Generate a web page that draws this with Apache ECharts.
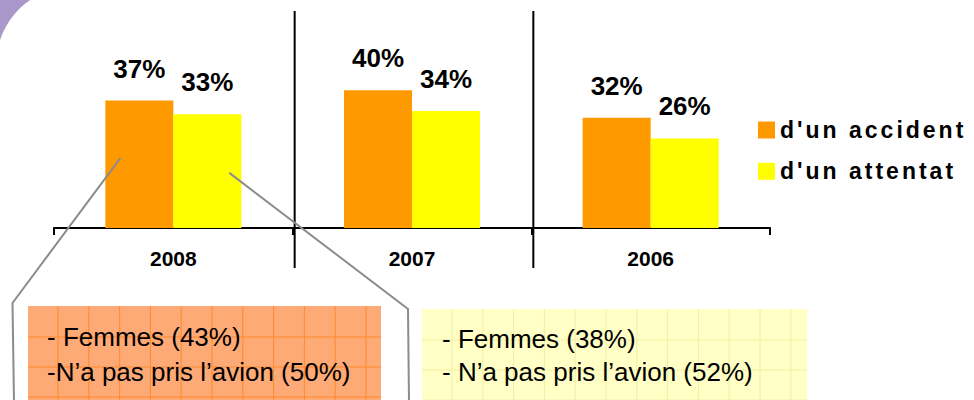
<!DOCTYPE html>
<html><head><meta charset="utf-8">
<script src="https://cdn.jsdelivr.net/npm/echarts@6/dist/echarts.min.js"></script>
<style>
html,body{margin:0;padding:0;background:#fff;}
#chart{width:974px;height:400px;}
#chart text[style*="23px"]{letter-spacing:3px;}
</style></head><body><div id="chart"></div>
<script>
const categories = ['2008', '2007', '2006'];
const seriesNames = ["d'un accident", "d'un attentat"];
const accidentValues = [37, 40, 32];
const attentatValues = [33, 34, 26];
const leftNoteLines = ['- Femmes (43%)', '-N\u2019a pas pris l\u2019avion (50%)'];
const rightNoteLines = ['- Femmes (38%)', '- N\u2019a pas pris l\u2019avion (52%)'];

const FONT = '"Liberation Sans", Arial, sans-serif';
const chart = echarts.init(document.getElementById('chart'), null, { renderer: 'svg' });

const labelCfg = {
  show: true, position: 'top', distance: 19, formatter: '{c}%',
  fontSize: 26, fontWeight: 'bold', color: '#000', fontFamily: FONT
};

chart.setOption({
  animation: false,
  backgroundColor: '#fff',
  grid: { left: 54, right: 204, top: 11, bottom: 172 },
  legend: {
    orient: 'vertical', left: 753, top: 113.5, itemWidth: 17, itemHeight: 17, itemGap: 18.3,
    icon: 'rect', data: seriesNames,
    textStyle: { fontSize: 23, fontWeight: 'bold', color: '#000', fontFamily: FONT }
  },
  xAxis: {
    type: 'category', data: categories,
    axisLine: { lineStyle: { color: '#000', width: 2 } },
    axisTick: { show: true, length: 7, lineStyle: { color: '#000', width: 2 } },
    axisLabel: { fontSize: 21, fontWeight: 'bold', color: '#000', margin: 20, fontFamily: FONT },
    splitLine: { show: false }
  },
  yAxis: { type: 'value', min: 0, max: 63, show: false },
  series: [
    { name: seriesNames[0], type: 'bar', data: accidentValues, barGap: '0%', barCategoryGap: '43%',
      itemStyle: { color: '#ff9900' }, label: labelCfg },
    { name: seriesNames[1], type: 'bar', data: attentatValues, barGap: '0%', barCategoryGap: '43%',
      itemStyle: { color: '#ffff00' }, label: labelCfg }
  ]
});

const c0 = chart.convertToPixel({ xAxisIndex: 0 }, categories[0]);
const c1 = chart.convertToPixel({ xAxisIndex: 0 }, categories[1]);
const c2 = chart.convertToPixel({ xAxisIndex: 0 }, categories[2]);
const catW = c1 - c0;
const barW = catW * (1 - 0.43) / 2;
const yAt = v => chart.convertToPixel({ yAxisIndex: 0 }, v);

const g = [];
const cornerPts = [[0, 0]];
const cx = 75, cy = 65, r = 79;
const a0 = Math.atan2(40.2 - cy, 0 - cx), a1 = Math.atan2(0 - cy, 30.1 - cx);
for (let i = 0; i <= 24; i++) {
  const a = a0 + (a1 - a0) * i / 24;
  cornerPts.push([cx + r * Math.cos(a), cy + r * Math.sin(a)]);
}
g.push({ type: 'polygon', z: -10, shape: { points: cornerPts }, style: { fill: '#a998c9' } });
[(c0 + c1) / 2 + 2, (c1 + c2) / 2 + 2].forEach(x => {
  g.push({ type: 'line', z: 5, shape: { x1: x, y1: 11, x2: x, y2: 268 }, style: { stroke: '#000', lineWidth: 2 } });
});
function box(x, y, w, h, fill, gridColor, step) {
  g.push({ type: 'rect', z: 1, shape: { x, y, width: w, height: h }, style: { fill } });
  for (let gx = x + 30; gx < x + w; gx += step) {
    g.push({ type: 'line', z: 2, shape: { x1: gx, y1: y, x2: gx, y2: y + h }, style: { stroke: gridColor, lineWidth: 1 } });
  }
  for (let gy = y + 31; gy < y + h; gy += 30) {
    g.push({ type: 'line', z: 2, shape: { x1: x, y1: gy, x2: x + w, y2: gy }, style: { stroke: gridColor, lineWidth: 1 } });
  }
}
box(28, 306, 353, 100, '#fdaa76', '#ff8a2a', 30.8);
box(422, 309, 385, 100, '#ffffc6', '#f1eea4', 30.8);
function note(lines, x, ys) {
  lines.forEach((t, i) => {
    g.push({ type: 'text', z: 3, x: x, y: ys[i], style: { text: t, fontSize: 26, fontFamily: FONT, fill: '#000', verticalAlign: 'middle' } });
  });
}
note(leftNoteLines, 47, [337, 372]);
note(rightNoteLines, 442, [338.5, 372]);
const p1 = [c0 - barW + 15, yAt(20.3)];
const p2 = [c0 + barW / 2 + 22, yAt(16)];
g.push({ type: 'polyline', z: 6, shape: { points: [[14, 402], [12.5, 303], p1] }, style: { stroke: '#8c8c8c', lineWidth: 2, fill: null } });
g.push({ type: 'polyline', z: 6, shape: { points: [p2, [408, 309], [409, 402]] }, style: { stroke: '#8c8c8c', lineWidth: 2, fill: null } });

chart.setOption({ graphic: { elements: g } });
</script></body></html>
